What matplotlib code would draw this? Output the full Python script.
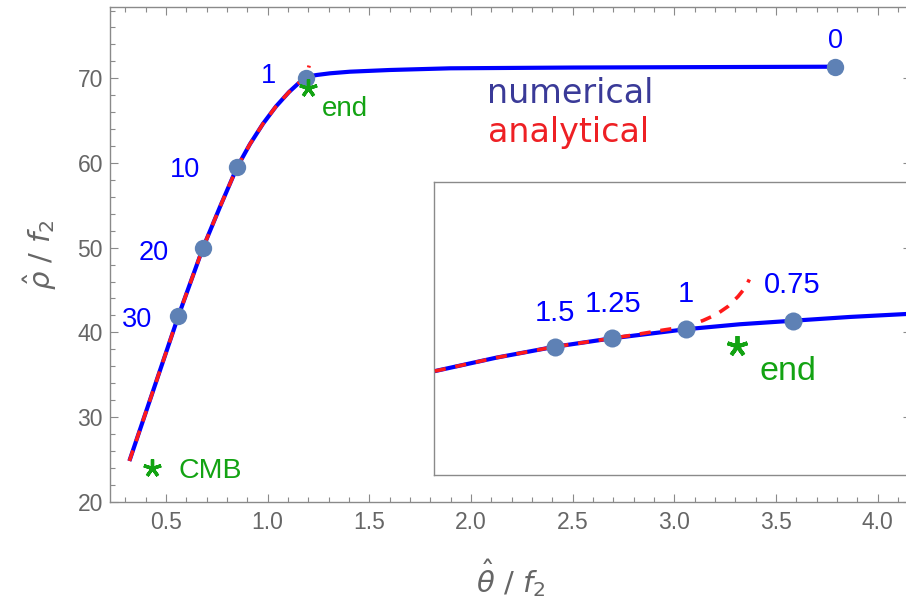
import matplotlib
matplotlib.use('Agg')
import matplotlib.pyplot as plt
from matplotlib.ticker import MultipleLocator

# ---------------- data (main panel) ----------------
num_x = [0.320, 0.561, 0.681, 0.766, 0.849, 0.913, 0.977, 1.041, 1.105, 1.154,
         1.189, 1.215, 1.241, 1.307, 1.405, 1.600, 1.897, 2.500, 3.000, 3.790]
num_y = [24.81, 41.93, 49.92, 54.84, 59.47, 62.23, 64.63, 66.68, 68.38, 69.46,
         70.08, 70.28, 70.39, 70.59, 70.78, 70.98, 71.18, 71.27, 71.31, 71.37]

ana_x = [0.320, 0.561, 0.681, 0.766, 0.849, 0.913, 0.977, 1.041, 1.105, 1.154,
         1.189, 1.197, 1.204]
ana_y = [24.81, 41.93, 49.92, 54.84, 59.47, 62.23, 64.63, 66.68, 68.38, 69.46,
         70.08, 70.85, 71.50]

pts_x = [0.561, 0.681, 0.849, 1.189, 3.790]
pts_y = [41.93, 49.92, 59.47, 70.08, 71.37]
pts_labels = ['30', '20', '10', '1', '0']
lab_x = [0.359, 0.440, 0.595, 1.003, 3.790]
lab_y = [40.59, 48.54, 58.31, 69.41, 73.54]

star_x = [0.430, 1.200]
star_y = [23.94, 68.82]
star_labels = ['CMB', 'end']
star_lab_x = [0.564, 1.266]
star_lab_y = [22.76, 65.55]

# ---------------- data (inset) ----------------
in_num_x = [1.1431, 1.1535, 1.1633, 1.1730, 1.1855, 1.1946, 1.2035, 1.2132, 1.2227, 1.2260]
in_num_y = [69.755, 69.801, 69.838, 69.867, 69.898, 69.915, 69.927, 69.940, 69.950, 69.953]

in_ana_x = [1.1431, 1.1535, 1.1633, 1.1730, 1.1777, 1.1816, 1.1855, 1.1884, 1.1906,
            1.1926, 1.1943, 1.1955, 1.1962]
in_ana_y = [69.755, 69.801, 69.838, 69.867, 69.882, 69.895, 69.907, 69.928, 69.948,
            69.976, 70.010, 70.040, 70.068]

in_pts_x = [1.1633, 1.1730, 1.1855, 1.2035]
in_pts_y = [69.838, 69.867, 69.898, 69.927]
in_pts_labels = ['1.5', '1.25', '1', '0.75']
in_lab_x = [1.1634, 1.1732, 1.1855, 1.2035]
in_lab_y = [69.927, 69.958, 69.992, 70.023]

in_star_x = [1.1942]
in_star_y = [69.841]
in_star_labels = ['end']
in_star_lab_x = [1.1979]
in_star_lab_y = [69.725]

# ---------------- styles ----------------
plt.rcParams['font.family'] = ['Liberation Sans', 'DejaVu Sans']
plt.rcParams['lines.scale_dashes'] = False
plt.rcParams['mathtext.fontset'] = 'dejavusans'

BLUE = '#0000ff'
RED = '#ff1a1a'
PT = '#5e81b5'
GREEN = '#13a313'
GRAY = '#8a8a8a'
TXT = '#666666'

W, H = 906, 605
fig = plt.figure(figsize=(W / 100, H / 100), dpi=100)

L, R, T, B = 110, 911, 7, 501.7
ax = fig.add_axes([L / W, 1 - B / H, (R - L) / W, (B - T) / H])
ax.set_xlim(0.2247, 4.1637)
ax.set_ylim(20.0, 78.42)

for s in ax.spines.values():
    s.set_color(GRAY)
    s.set_linewidth(1.0)
ax.xaxis.set_major_locator(MultipleLocator(0.5))
ax.xaxis.set_minor_locator(MultipleLocator(0.1))
ax.yaxis.set_major_locator(MultipleLocator(10))
ax.yaxis.set_minor_locator(MultipleLocator(2))
ax.tick_params(which='both', direction='in', top=True, right=True,
               color=GRAY, width=0.8, labelcolor=TXT, labelsize=16.5)
ax.tick_params(which='major', length=5.8, pad=7)
ax.tick_params(which='minor', length=3.5)
ax.tick_params(axis='y', which='major', pad=5)

ax.plot(num_x, num_y, color=BLUE, lw=3.0, solid_capstyle='butt', zorder=2)
ax.plot(ana_x, ana_y, color=RED, lw=2.6, dashes=(8, 7), zorder=3)
ax.plot(pts_x, pts_y, 'o', color=PT, ms=12.5, mec='none', zorder=4)
for t, x, y in zip(pts_labels, lab_x, lab_y):
    ax.text(x, y, t, color=BLUE, fontsize=19.5, ha='center', va='baseline')

ax.plot(star_x, star_y, ls='none', marker=(5, 2, 0), color=GREEN, ms=13,
        mew=2.4, zorder=5)
for t, x, y in zip(star_labels, star_lab_x, star_lab_y):
    ax.text(x, y, t, color=GREEN, fontsize=20.5 if t == 'CMB' else 20,
            ha='left', va='baseline')

ax.text(2.489, 67.05, 'numerical', color='#3a3a98', fontsize=24,
        family='DejaVu Sans', ha='center', va='baseline')
ax.text(2.482, 62.51, 'analytical', color='#ee2024', fontsize=24,
        family='DejaVu Sans', ha='center', va='baseline')

fig.text(511 / W, 1 - 578 / H, r'$\hat{\theta}\ /\ f_2$', color=TXT,
         fontsize=21, ha='center', va='center')
fig.text(40 / W, 1 - 255 / H, r'$\hat{\rho}\ /\ f_2$', color=TXT,
         fontsize=21, ha='center', va='center', rotation=90)

# ---------------- inset ----------------
IL, IT, IB = 434.3, 182.3, 475
axi = fig.add_axes([IL / W, 1 - IB / H, (R - IL) / W, (IB - IT) / H])
axi.set_facecolor('none')
axi.set_xlim(1.143, 1.2235)
axi.set_ylim(69.4, 70.4)
axi.set_xticks([])
axi.set_yticks([])
for s in axi.spines.values():
    s.set_color(GRAY)
    s.set_linewidth(1.0)

axi.plot(in_num_x, in_num_y, color=BLUE, lw=3.0, zorder=2)
axi.plot(in_ana_x, in_ana_y, color=RED, lw=2.6, dashes=(8, 7), zorder=3)
axi.plot(in_pts_x, in_pts_y, 'o', color=PT, ms=13, mec='none', zorder=4)
for t, x, y in zip(in_pts_labels, in_lab_x, in_lab_y):
    axi.text(x, y, t, color=BLUE, fontsize=21, ha='center', va='baseline')
axi.plot(in_star_x, in_star_y, ls='none', marker=(5, 2, 0), color=GREEN,
         ms=15, mew=2.8, zorder=5)
for t, x, y in zip(in_star_labels, in_star_lab_x, in_star_lab_y):
    axi.text(x, y, t, color=GREEN, fontsize=24.5, ha='left', va='baseline')

fig.savefig('out.png', dpi=100)
